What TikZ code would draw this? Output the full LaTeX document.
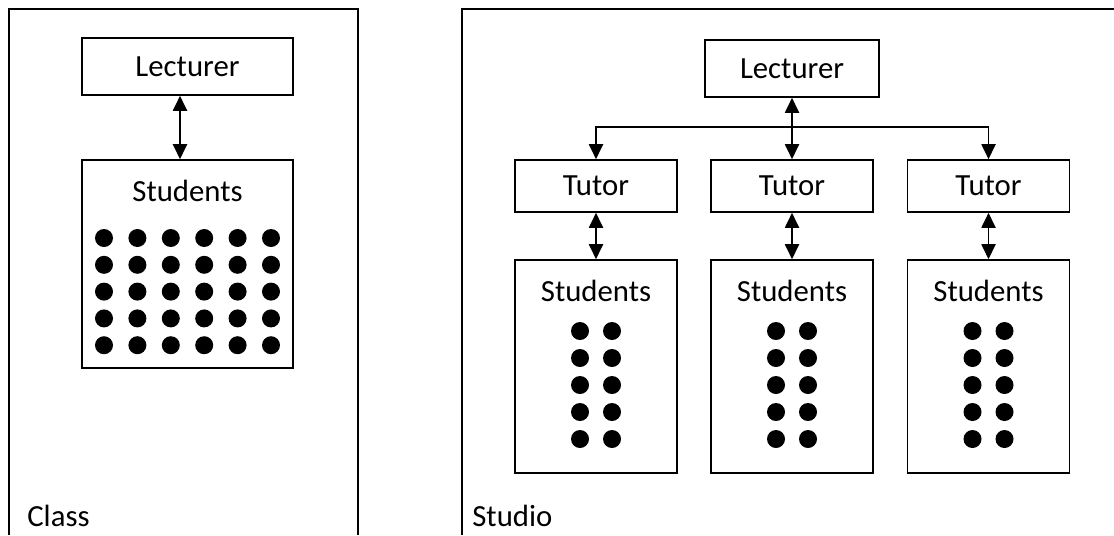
\documentclass[tikz,border=0pt]{standalone}
\usepackage{fontspec}
\setmainfont{Carlito}
\usetikzlibrary{arrows.meta}

\begin{document}
\begin{tikzpicture}[x=0.02cm,y=-0.02cm,
    txt/.style={inner sep=0pt,font=\fontsize{17.5}{20}\selectfont},
    box/.style={txt,draw,line width=0.9pt},
    lecbox/.style={box,minimum height=1.14cm},
    tutbox/.style={box,minimum width=3.24cm,minimum height=1.04cm},
    stubox/.style={box,minimum width=3.24cm,minimum height=4.26cm},
    link/.style={line width=1.1pt,{Triangle[length=0.3cm,width=0.28cm]}-{Triangle[length=0.3cm,width=0.28cm]}},
    down/.style={line width=1.1pt,-{Triangle[length=0.3cm,width=0.28cm]}}]

\useasboundingbox (0,0) rectangle (1114,535);

% frames, open at the bottom
\draw[line width=1pt] (9,535) -- (9,9) -- (358,9) -- (358,535);
\draw[line width=1pt] (462,535) -- (462,9) -- (1114,9);

% class
\node[lecbox,minimum width=4.22cm] (lecL) at (187.5,66.5) {Lecturer};
\node[box,minimum width=4.22cm,minimum height=4.16cm] (stuL) at (187.5,264) {};
\node[txt] (stuLt) at ([yshift=-0.64cm]stuL.north) {Students};
\draw[link] ([xshift=-0.15cm]lecL.south) -- ([xshift=-0.15cm]stuL.north);
\foreach \c in {0,...,5}
  \foreach \r in {0,...,4}
    \fill (104+33.4*\c,238+26.8*\r) circle (0.18cm);
\node[txt,anchor=west] (cls) at (27,516) {Class};

% studio
\node[lecbox,minimum width=3.48cm] (lecR) at (792,68.5) {Lecturer};
\coordinate (hub) at (792,127);
\foreach \i/\x in {1/596,2/792,3/988.5}{
  \node[tutbox] (tut\i) at (\x,186) {Tutor};
  \node[stubox] (stu\i) at (\x,366.5) {};
  \node[txt] (stut\i) at ([yshift=-0.64cm]stu\i.north) {Students};
  \draw[link] (tut\i.south) -- (stu\i.north);
  \foreach \r in {0,...,4}
    \fill (\x-16,331+27*\r) circle (0.18cm) (\x+16,331+27*\r) circle (0.18cm);
}
\draw[link] (lecR.south) -- (tut2.north);
\draw[down] (hub) -| (tut1.north);
\draw[down] (hub) -| (tut3.north);
\node[txt,anchor=west] (stdo) at (472,516) {Studio};
\end{tikzpicture}
\end{document}
